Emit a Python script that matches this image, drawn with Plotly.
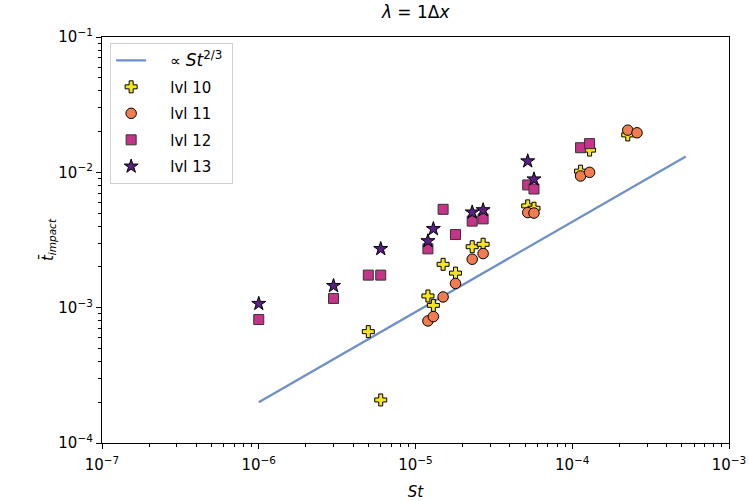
import plotly.graph_objects as go

# Fit line  (proportional to St^{2/3})
fit_st = [1e-6, 5.3e-4]
fit_t = [2.0e-4, 1.31e-2]

# lvl 10
st10 = [5e-6, 6e-6, 1.2e-5, 1.3e-5, 1.5e-5, 1.8e-5, 2.3e-5, 2.7e-5, 5.2e-5, 5.7e-5, 1.13e-4, 1.29e-4, 2.26e-4]
t10 = [6.65e-4, 2.08e-4, 1.22e-3, 1.04e-3, 2.09e-3, 1.80e-3, 2.82e-3, 2.94e-3, 5.65e-3, 5.43e-3, 1.02e-2, 1.46e-2, 1.89e-2]

# lvl 11
st11 = [1.2e-5, 1.3e-5, 1.5e-5, 1.8e-5, 2.3e-5, 2.7e-5, 5.2e-5, 5.7e-5, 1.13e-4, 1.29e-4, 2.26e-4, 2.59e-4]
t11 = [7.98e-4, 8.59e-4, 1.20e-3, 1.51e-3, 2.28e-3, 2.51e-3, 5.04e-3, 5.0e-3, 9.4e-3, 1.0e-2, 2.05e-2, 1.96e-2]

# lvl 12
st12 = [1e-6, 3e-6, 5e-6, 6e-6, 1.2e-5, 1.5e-5, 1.8e-5, 2.3e-5, 2.7e-5, 5.2e-5, 5.7e-5, 1.13e-4, 1.29e-4]
t12 = [8.17e-4, 1.17e-3, 1.74e-3, 1.74e-3, 2.72e-3, 5.33e-3, 3.47e-3, 4.36e-3, 4.53e-3, 8.07e-3, 7.53e-3, 1.52e-2, 1.63e-2]

# lvl 13
st13 = [1e-6, 3e-6, 6e-6, 1.2e-5, 1.3e-5, 2.3e-5, 2.7e-5, 5.2e-5, 5.7e-5]
t13 = [1.07e-3, 1.45e-3, 2.72e-3, 3.11e-3, 3.82e-3, 5.07e-3, 5.27e-3, 1.21e-2, 8.9e-3]

x_tickvals = [1e-7, 1e-6, 1e-5, 1e-4, 1e-3]
x_ticktext = ["10<sup>−7</sup>", "10<sup>−6</sup>", "10<sup>−5</sup>", "10<sup>−4</sup>", "10<sup>−3</sup>"]
y_tickvals = [1e-4, 1e-3, 1e-2, 1e-1]
y_ticktext = ["10<sup>−4</sup>", "10<sup>−3</sup>", "10<sup>−2</sup>", "10<sup>−1</sup>"]

# minor tick positions (2..9 times each decade)
x_minor = [m * 10.0 ** e for e in range(-7, -3) for m in range(2, 10)]
y_minor = [m * 10.0 ** e for e in range(-4, -1) for m in range(2, 10)]

FONT = "DejaVu Sans"
PAD = "&nbsp;" * 4
TPAD = "&nbsp;" * 3

fig = go.Figure()
fig.add_trace(go.Scatter(x=fit_st, y=fit_t, mode="lines", legendgroup="a",
                         line=dict(color="#6f8fcb", width=2.2),
                         name=PAD + "∝ <span style='font-size:17px'><i>St</i><sup>2/3</sup></span>" + "&nbsp;"))
fig.add_trace(go.Scatter(x=st10, y=t10, mode="markers", name=PAD + "lvl 10" + TPAD, legendgroup="b",
                         marker=dict(symbol="cross", size=10, color="#f5e41f",
                                     line=dict(color="black", width=1))))
fig.add_trace(go.Scatter(x=st11, y=t11, mode="markers", name=PAD + "lvl 11" + TPAD, legendgroup="c",
                         marker=dict(symbol="circle", size=10.5, color="#f07c4f",
                                     line=dict(color="black", width=1))))
fig.add_trace(go.Scatter(x=st12, y=t12, mode="markers", name=PAD + "lvl 12" + TPAD, legendgroup="d",
                         marker=dict(symbol="square", size=10, color="#c6348a",
                                     line=dict(color="#333333", width=1))))
fig.add_trace(go.Scatter(x=st13, y=t13, mode="markers", name=PAD + "lvl 13" + TPAD, legendgroup="e",
                         marker=dict(symbol="star", size=10.5, color="#5b1e85",
                                     line=dict(color="black", width=1))))

axis_common = dict(type="log", showgrid=False, zeroline=False, showline=True,
                   linecolor="black", linewidth=1.2, mirror=True, automargin=False,
                   ticks="outside", ticklen=5, tickwidth=1, tickcolor="black",
                   tickfont=dict(family=FONT, size=15, color="black"))

fig.update_xaxes(range=[-7, -3], tickvals=x_tickvals, ticktext=x_ticktext,
                 ticklabelstandoff=3,
                 title=dict(text="<i>St</i>", font=dict(family=FONT, size=15, color="black"),
                            standoff=15),
                 **axis_common)
fig.update_yaxes(range=[-4, -1], tickvals=y_tickvals, ticktext=y_ticktext,
                 title=dict(text="<i>t̄</i><sub><i>impact</i></sub>",
                            font=dict(family=FONT, size=15, color="black"), standoff=1),
                 **axis_common)

# overlay axes for minor ticks
minor_common = dict(type="log", showgrid=False, zeroline=False, showline=False,
                    ticks="outside", ticklen=3, tickwidth=0.8, tickcolor="black",
                    showticklabels=False, automargin=False)
fig.update_layout(
    xaxis2=dict(overlaying="x", side="bottom", range=[-7, -3], tickvals=x_minor,
                anchor="y", **minor_common),
    yaxis2=dict(overlaying="y", side="left", range=[-4, -1], tickvals=y_minor,
                anchor="x", **minor_common),
)
# invisible trace to activate minor-tick overlay axes
fig.add_trace(go.Scatter(x=[1e-5], y=[1e-3], xaxis="x2", yaxis="y2", mode="markers",
                         marker=dict(opacity=0), showlegend=False, hoverinfo="skip"))

fig.update_layout(
    width=749, height=501,
    margin=dict(l=102, r=20, t=37, b=58),
    paper_bgcolor="white", plot_bgcolor="white",
    font=dict(family=FONT, size=14, color="black"),
    title=dict(text="<i>λ</i> = 1Δ<i>x</i>", x=0.555, xanchor="center", y=0.975,
               yanchor="middle", font=dict(family=FONT, size=17, color="black")),
    legend=dict(x=0.013, y=0.985, xanchor="left", yanchor="top",
                bgcolor="rgba(255,255,255,0.9)", bordercolor="#d0d0d0", borderwidth=1,
                font=dict(family=FONT, size=15, color="black"),
                itemsizing="trace", tracegroupgap=4),
    showlegend=True,
)

fig.write_html("out.html", config={"displayModeBar": False},
               post_script="document.body.style.margin='0';")
